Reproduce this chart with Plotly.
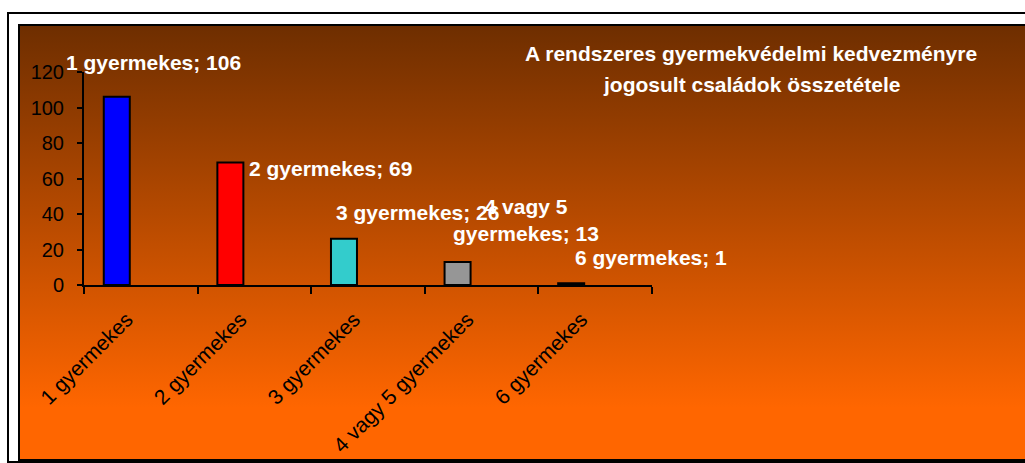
import base64
import plotly.graph_objects as go

categories = ["1 gyermekes", "2 gyermekes", "3 gyermekes", "4 vagy 5 gyermekes", "6 gyermekes"]
values = [106, 69, 26, 13, 1]
bar_colors = ["#0000FF", "#FF0000", "#33CCCC", "#969696", "#993366"]
label_texts = ["1 gyermekes; 106", "2 gyermekes; 69", "3 gyermekes; 26", "4 vagy 5<br>gyermekes; 13", "6 gyermekes; 1"]
y_ticks = [0, 20, 40, 60, 80, 100, 120]
title_lines = ["A rendszeres gyermekvédelmi kedvezményre", "jogosult családok összetétele"]

W, H = 1025, 463
ML, MR, MT, MB = 84, 373, 72, 178
PW, PH = W - ML - MR, H - MT - MB


def px(x):
    return (x - ML) / PW


def py(y):
    return (H - MB - y) / PH


# label offsets (pixels) relative to category centre / bar top
label_style = [
    dict(xshift=13, yshift=34, xanchor="center"),
    dict(xshift=-7, yshift=-6, xanchor="left"),
    dict(xshift=49, yshift=26, xanchor="center"),
    dict(xshift=44, yshift=42, xanchor="center"),
    dict(xshift=56, yshift=26, xanchor="center"),
]

FONT = "Liberation Sans, Arial, sans-serif"

fig = go.Figure()
fig.add_trace(go.Bar(
    x=categories, y=values,
    marker=dict(color=bar_colors, line=dict(color="black", width=2)),
    width=0.229, offset=-0.326,
    hoverinfo="x+y",
))

font_lbl = dict(family=FONT, size=21, color="white")
annotations = []
for i, (cat, v, t) in enumerate(zip(categories, values, label_texts)):
    st = label_style[i]
    annotations.append(dict(
        x=cat, y=v, xref="x", yref="y", text="<b>" + t + "</b>", showarrow=False,
        xanchor=st["xanchor"], yanchor="middle", xshift=st["xshift"], yshift=st["yshift"],
        font=font_lbl, align="center",
    ))
for k, line in enumerate(title_lines):
    annotations.append(dict(
        x=px(751), y=py(54 + 30 * k), xref="paper", yref="paper", text="<b>" + line + "</b>",
        showarrow=False, xanchor="center", yanchor="middle", align="center",
        font=dict(family=FONT, size=21, color="white"),
    ))

svg = ('<svg xmlns="http://www.w3.org/2000/svg" width="100" height="100" preserveAspectRatio="none">'
       '<defs><linearGradient id="g" x1="0" y1="0" x2="0" y2="1">'
       '<stop offset="0" stop-color="#6E2E00"/><stop offset="0.88" stop-color="#FF6600"/>'
       '<stop offset="1" stop-color="#FF6600"/>'
       '</linearGradient></defs><rect width="100" height="100" fill="url(#g)"/></svg>')
src = "data:image/svg+xml;base64," + base64.b64encode(svg.encode()).decode()

fig.update_layout(
    width=W, height=H,
    margin=dict(l=ML, r=MR, t=MT, b=MB, autoexpand=False),
    paper_bgcolor="white", plot_bgcolor="rgba(0,0,0,0)",
    showlegend=False,
    font=dict(family=FONT, size=20, color="black"),
    images=[dict(source=src, xref="paper", yref="paper", x=px(19), y=py(25),
                 sizex=px(1030) - px(19), sizey=py(25) - py(460),
                 xanchor="left", yanchor="top", sizing="stretch", layer="below")],
    shapes=[
        dict(type="rect", xref="paper", yref="paper", x0=px(8), x1=px(1032), y0=py(462), y1=py(13),
             line=dict(color="black", width=2), fillcolor="rgba(0,0,0,0)", layer="below"),
        dict(type="rect", xref="paper", yref="paper", x0=px(19), x1=px(1032), y0=py(460), y1=py(25),
             line=dict(color="black", width=2), fillcolor="rgba(0,0,0,0)", layer="above"),
    ],
    annotations=annotations,
    xaxis=dict(
        type="category", range=[-0.5, len(categories) - 0.5], automargin=False,
        showline=True, linecolor="black", linewidth=2,
        ticks="outside", ticklen=7, tickwidth=2, tickcolor="black", tickson="boundaries",
        tickangle=-45, showgrid=False, zeroline=False,
        ticklabelstandoff=12, ticklabelshift=-14,
        tickfont=dict(size=21, color="black"),
    ),
    yaxis=dict(
        range=[0, 120], tickvals=y_ticks, automargin=False,
        showline=True, linecolor="black", linewidth=2,
        ticks="outside", ticklen=5, tickwidth=2, tickcolor="black",
        showgrid=False, zeroline=False, ticklabelstandoff=9,
        tickfont=dict(size=20, color="black"),
    ),
)

fig.write_html("out.html", config={"displayModeBar": False},
               post_script="document.body.style.margin='0';document.body.style.padding='0';")
